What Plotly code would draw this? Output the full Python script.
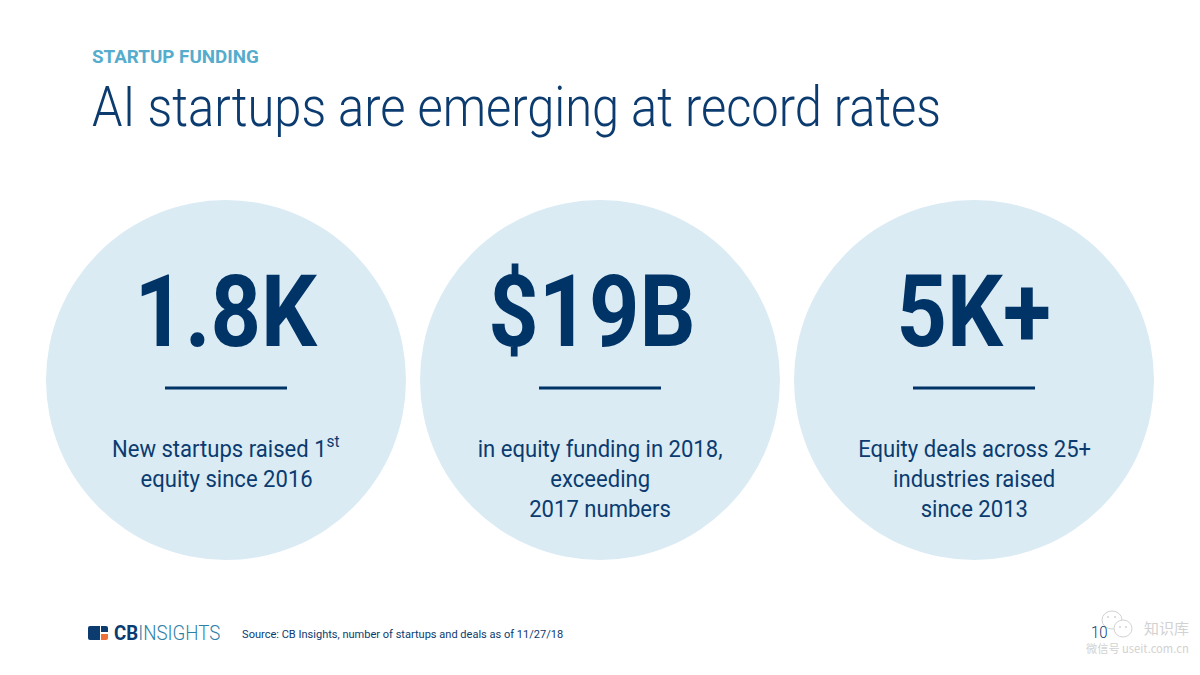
import plotly.graph_objects as go

NAVY = "#0B3B6F"
DARK = "#003366"
CIRCLE = "#DAEBF4"
LABEL = "#55ACCD"
WATERMARK = "#D2D2D2"

big_numbers = ["1.8K", "$19B", "5K+"]
captions = [
    ["New startups raised 1<sup>st</sup>", "equity since 2016"],
    ["in equity funding in 2018,", "exceeding", "2017 numbers"],
    ["Equity deals across 25+", "industries raised", "since 2013"],
]

CENTERS = [226, 600, 974]
BIG_SHIFT = [0, -8, -1]
R = 180
CY = 380

fig = go.Figure()
fig.add_trace(go.Scatter(x=[0, 1200], y=[0, 675], mode="markers", marker=dict(opacity=0), hoverinfo="skip", showlegend=False))


def note(x, y, text, size, color, anchor="center", weight=None, family="Roboto", narrow=1):
    font = dict(family=family, size=size, color=color)
    if weight:
        font["weight"] = weight
    fig.add_annotation(x=x, y=y, text=text, showarrow=False, xanchor=anchor, yanchor="middle", font=font, name=str(narrow))


for cx, shift, big, cap in zip(CENTERS, BIG_SHIFT, big_numbers, captions):
    fig.add_shape(type="circle", x0=cx - R, x1=cx + R, y0=CY - R, y1=CY + R,
                  fillcolor=CIRCLE, line_width=0, layer="below")
    fig.add_shape(type="line", x0=cx - 61, x1=cx + 61, y0=388, y1=388, line=dict(color=DARK, width=3))
    note(cx + shift, 311, f"<b>{big}</b>", 100, DARK, narrow=0.88)
    for i, line in enumerate(cap):
        note(cx, 449 + 30 * i - (2 if "<sup>" in line else 0), line, 24, NAVY, narrow=0.92)

note(90, 57, "<b>STARTUP FUNDING</b>", 18.8, LABEL, "left")
note(90, 107, "AI startups are emerging at record rates", 55.5, NAVY, "left", 300, narrow=0.88)
note(240, 633.5, "Source: CB Insights, number of startups and deals as of 11/27/18", 11.5, NAVY, "left", narrow=0.96)
note(112, 633, "<b>CB</b><span style='color:#2E7FA6'>INSIGHTS</span>", 21, "#0B3B6F", "left", 300, narrow=0.89)
note(1089, 632, "10", 17, NAVY, "left", 300, narrow=0.88)
note(1166, 627, "知识库", 15, WATERMARK, family="Noto Sans CJK SC")
note(1191, 648, "微信号 useit.com.cn", 11.2, WATERMARK, "right", family="Noto Sans CJK SC")

# WeChat-style watermark bubbles
fig.add_shape(type="circle", x0=1102, x1=1122, y0=611, y1=629, fillcolor="white", line=dict(color=WATERMARK, width=1))
fig.add_shape(type="circle", x0=1114, x1=1132, y0=620, y1=637, fillcolor="white", line=dict(color=WATERMARK, width=1))
for ex, ey in [(1108, 617), (1115, 617), (1120, 627), (1126, 627)]:
    fig.add_shape(type="circle", x0=ex - 1, x1=ex + 1, y0=ey - 1, y1=ey + 1, fillcolor=WATERMARK, line_width=0)

# logo
fig.add_shape(type="path", path="M 90 626 L 100 626 L 100 640 L 90 640 Q 88 640 88 638 L 88 628 Q 88 626 90 626 Z",
              fillcolor=NAVY, line_width=0)
fig.add_shape(type="path", path="M 101 626 L 106 626 Q 108 626 108 628 L 108 632 L 101 632 Z", fillcolor=NAVY, line_width=0)
fig.add_shape(type="path", path="M 101 634 L 108 634 L 108 638 Q 108 640 106 640 L 101 640 Z", fillcolor="#F0703A", line_width=0)

fig.update_xaxes(range=[0, 1200], visible=False, fixedrange=True)
fig.update_yaxes(range=[675, 0], visible=False, fixedrange=True)
fig.update_layout(width=1200, height=675, margin=dict(l=0, r=0, t=0, b=0), paper_bgcolor="white", plot_bgcolor="white")

# Page margin off; the Roboto text is narrowed to the condensed cut of the reference.
post = """
document.body.style.margin = '0';
var gd = document.getElementById('{plot_id}');
function condense() {
  var anns = gd.layout.annotations;
  gd.querySelectorAll('.annotation').forEach(function (g, i) {
    var t = g.querySelector('text.annotation-text');
    var a = anns[i];
    if (!t || !a) return;
    var s = parseFloat(a.name);
    if (!(s < 1)) return;
    t.removeAttribute('transform');
    var b = t.getBBox();
    var ox = a.xanchor === 'left' ? b.x : b.x + b.width / 2;
    t.setAttribute('transform', 'translate(' + ox + ',0) scale(' + s + ',1) translate(' + (-ox) + ',0)');
  });
}
condense();
gd.on('plotly_afterplot', condense);
setTimeout(condense, 50);
"""
fig.write_html("out.html", post_script=post, config=dict(displayModeBar=False))
